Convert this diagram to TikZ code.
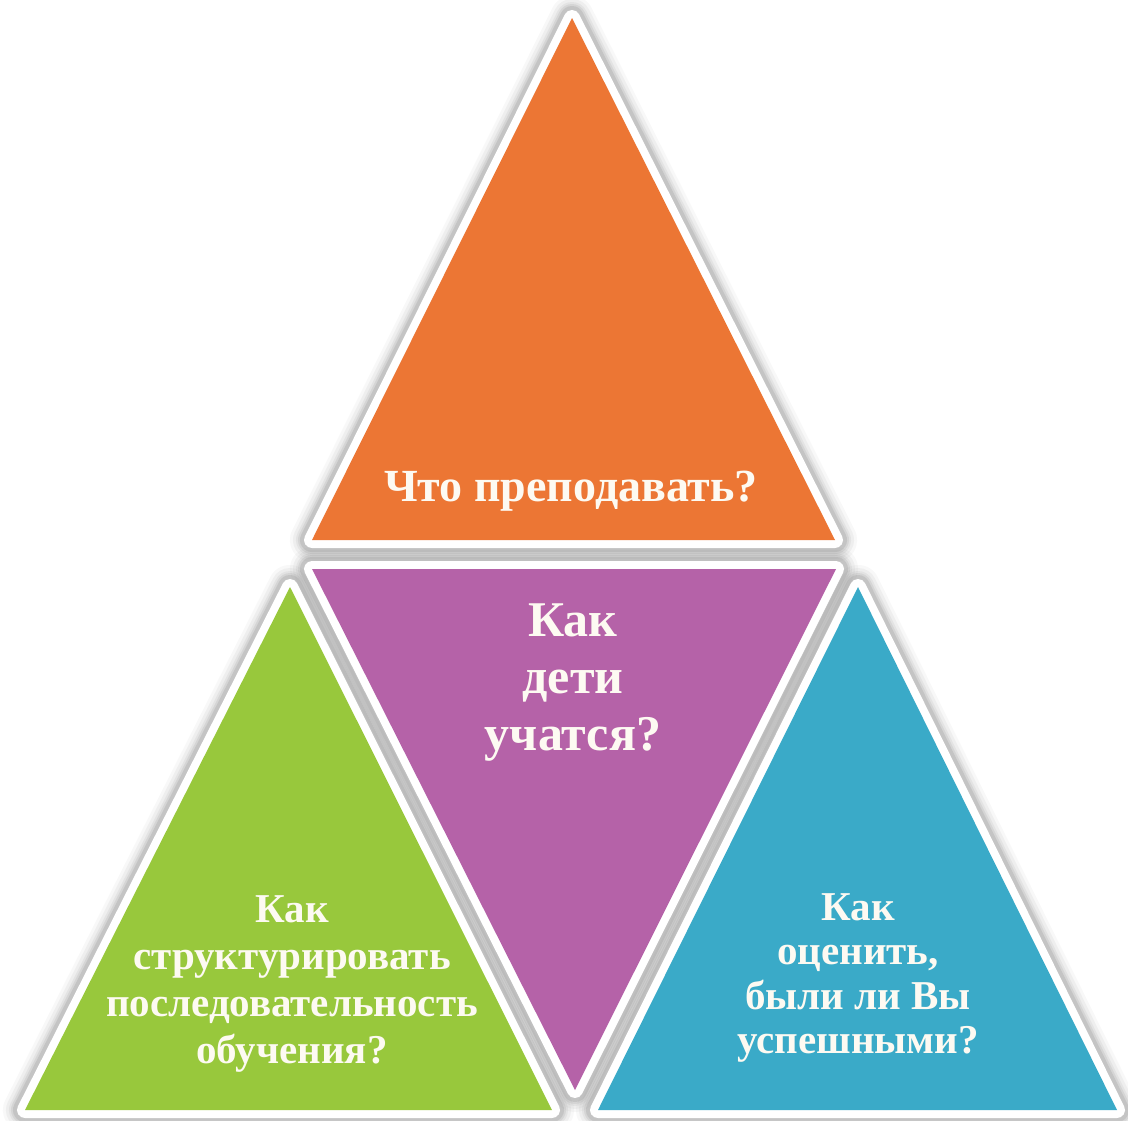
\documentclass[tikz,border=0pt]{standalone}
\usepackage{fontspec}
\setmainfont{Liberation Serif}
\definecolor{orangeT}{RGB}{236,118,52}
\definecolor{purpleT}{RGB}{181,98,168}
\definecolor{greenT}{RGB}{152,200,60}
\definecolor{blueT}{RGB}{58,170,200}
\definecolor{txtT}{RGB}{253,250,242}
\definecolor{shadowT}{RGB}{120,120,120}
\tikzset{
  shadowlayer/.style={draw=shadowT, line join=round, draw opacity=#1},
  whiteedge/.style={draw=white, line width=16pt, line join=round},
  label/.style={text=txtT, font=\bfseries\fontsize{40}{48}\selectfont, align=center, inner sep=0pt}
}
\begin{document}
\begin{tikzpicture}[x=1pt,y=-1pt]
\useasboundingbox (0,0) rectangle (1128,1120);
\fill[white] (0,0) rectangle (1128,1120);
% vertices
\coordinate (oA) at (572,18);  \coordinate (oL) at (312,540);  \coordinate (oR) at (835,540);
\coordinate (pL) at (312,569); \coordinate (pR) at (836,569);  \coordinate (pB) at (575,1090);
\coordinate (gA) at (290,587); \coordinate (gL) at (25,1110);  \coordinate (gR) at (552,1110);
\coordinate (bA) at (858,587); \coordinate (bL) at (598,1110); \coordinate (bR) at (1117,1110);
% soft shadows
\foreach \w/\op in {44/0.05, 38/0.07, 32/0.09, 28/0.12, 24/0.18} {
  \draw[shadowlayer=\op, line width=\w pt] (oA) -- (oL) -- (oR) -- cycle;
  \draw[shadowlayer=\op, line width=\w pt] (pL) -- (pR) -- (pB) -- cycle;
  \draw[shadowlayer=\op, line width=\w pt] (gA) -- (gL) -- (gR) -- cycle;
  \draw[shadowlayer=\op, line width=\w pt] (bA) -- (bL) -- (bR) -- cycle;
}
% white borders
\draw[whiteedge] (oA) -- (oL) -- (oR) -- cycle;
\draw[whiteedge] (pL) -- (pR) -- (pB) -- cycle;
\draw[whiteedge] (gA) -- (gL) -- (gR) -- cycle;
\draw[whiteedge] (bA) -- (bL) -- (bR) -- cycle;
% fills
\fill[orangeT] (oA) -- (oL) -- (oR) -- cycle;
\fill[purpleT] (pL) -- (pR) -- (pB) -- cycle;
\fill[greenT] (gA) -- (gL) -- (gR) -- cycle;
\fill[blueT] (bA) -- (bL) -- (bR) -- cycle;
% texts
\node[label, font=\bfseries\fontsize{46}{52}\selectfont] (tO) at (571,491) {Что преподавать?};
\node[label, font=\bfseries\fontsize{50}{57}\selectfont] (tP) at (573,683) {Как\\дети\\учатся?};
\node[label, font=\bfseries\fontsize{41}{47}\selectfont] (tG) at (292,984) {Как\\структурировать\\последовательность\\обучения?};
\node[label, font=\bfseries\fontsize{41}{44.5}\selectfont] (tB) at (858,978) {Как\\оценить,\\были ли Вы\\успешными?};
\end{tikzpicture}
\end{document}
